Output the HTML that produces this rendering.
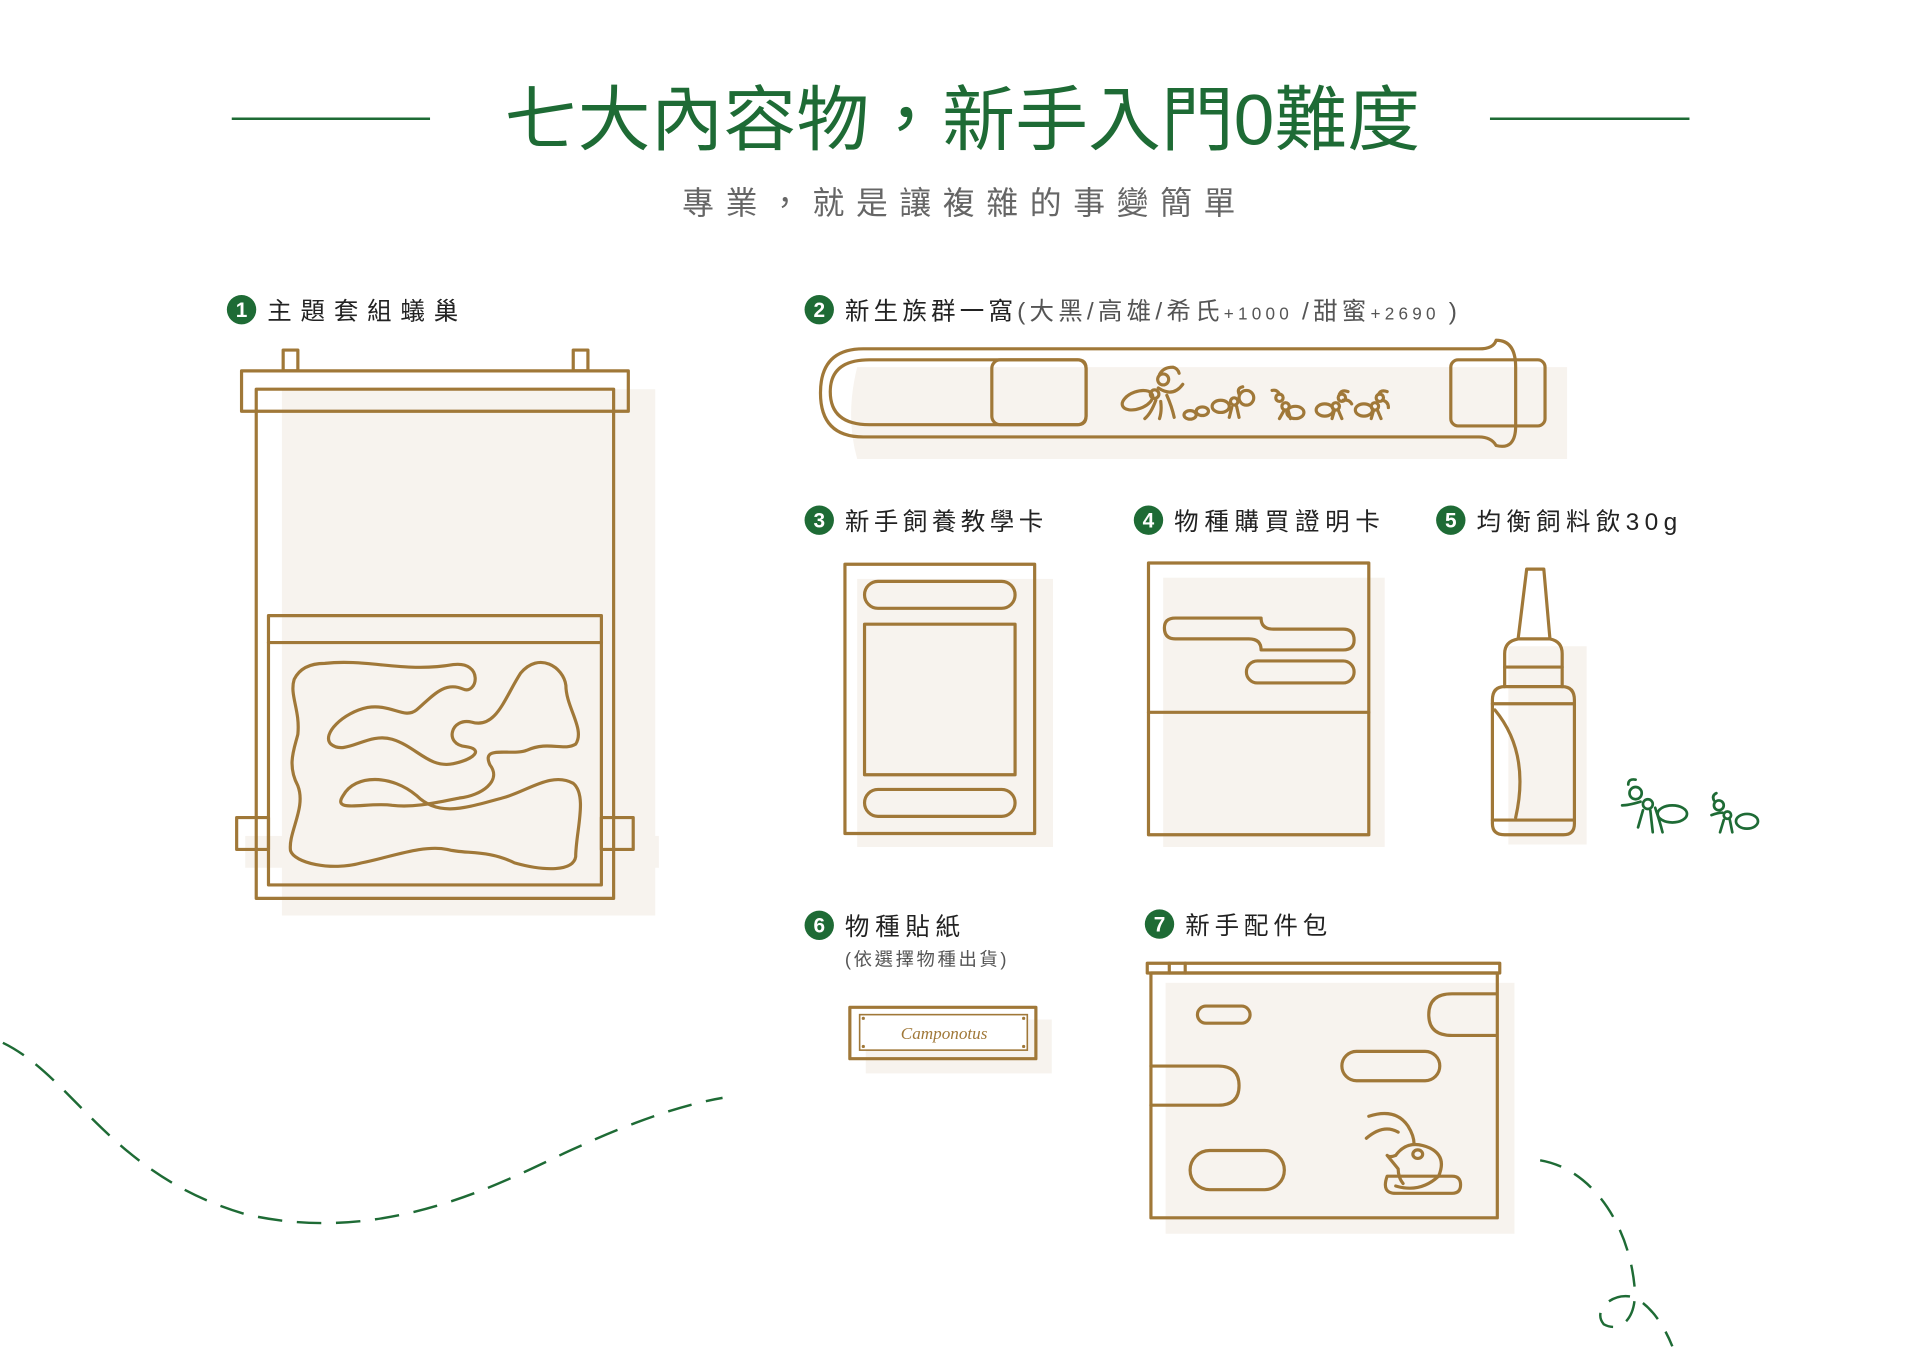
<!DOCTYPE html>
<html><head><meta charset="utf-8"><style>
html,body{margin:0;padding:0;background:#fff;}
svg{display:block;}
text{font-family:"Liberation Sans","Noto Sans CJK TC",sans-serif;}
</style></head><body>
<svg width="1920" height="1350" viewBox="0 0 1568 1103" xmlns="http://www.w3.org/2000/svg">
<defs><style>
.g{fill:none;stroke:#a07838;stroke-width:2.6;stroke-linejoin:round;stroke-linecap:round}
.f{fill:#f7f3ee}
.gr{fill:none;stroke:#1e6b35;stroke-width:2.2;stroke-linecap:round}
.lbl{font-size:20px;fill:#222;}
.num{fill:#1e6b35}
.nt{fill:#fff;font-size:17px;font-weight:bold;text-anchor:middle}
</style></defs>
<rect width="1568" height="1103" fill="#fff"/>
<!-- title -->
<line x1="189" y1="97" x2="351" y2="97" stroke="#1e6b35" stroke-width="2"/>
<line x1="1217" y1="97" x2="1380" y2="97" stroke="#1e6b35" stroke-width="2"/>
<text x="412" y="118" font-size="58" fill="#1e6b35" textLength="748" lengthAdjust="spacingAndGlyphs">七大內容物，新手入門0難度</text>
<text x="557" y="175" font-size="26" fill="#666" textLength="452" lengthAdjust="spacing">專業，就是讓複雜的事變簡單</text>

<!-- labels -->
<circle class="num" cx="197" cy="253" r="12"/><text class="nt" x="197" y="259">1</text>
<text class="lbl" x="218" y="261" textLength="156" lengthAdjust="spacing">主題套組蟻巢</text>
<circle class="num" cx="669" cy="253" r="12"/><text class="nt" x="669" y="259">2</text>
<text class="lbl" x="690" y="261" textLength="500" lengthAdjust="spacing">新生族群一窩<tspan fill="#555">(大黑/高雄/希氏</tspan><tspan fill="#555" font-size="14">+1000 </tspan><tspan fill="#555">/甜蜜</tspan><tspan fill="#555" font-size="14">+2690 </tspan><tspan fill="#555"> )</tspan></text>
<circle class="num" cx="669" cy="425" r="12"/><text class="nt" x="669" y="431">3</text>
<text class="lbl" x="690" y="433" textLength="162" lengthAdjust="spacing">新手飼養教學卡</text>
<circle class="num" cx="938" cy="425" r="12"/><text class="nt" x="938" y="431">4</text>
<text class="lbl" x="959" y="433" textLength="168" lengthAdjust="spacing">物種購買證明卡</text>
<circle class="num" cx="1185" cy="425" r="12"/><text class="nt" x="1185" y="431">5</text>
<text class="lbl" x="1206" y="433" textLength="164" lengthAdjust="spacing">均衡飼料飲30g</text>
<circle class="num" cx="669" cy="756" r="12"/><text class="nt" x="669" y="762">6</text>
<text class="lbl" x="690" y="764" textLength="94" lengthAdjust="spacing">物種貼紙</text>
<text x="690" y="789" font-size="15" fill="#555" textLength="132" lengthAdjust="spacing">(依選擇物種出貨)</text>
<circle class="num" cx="947" cy="755" r="12"/><text class="nt" x="947" y="761">7</text>
<text class="lbl" x="968" y="763" textLength="116" lengthAdjust="spacing">新手配件包</text>

<!-- 1 nest -->
<rect class="f" x="230" y="318" width="305" height="430"/>
<rect class="f" x="200" y="683" width="338" height="26"/>
<rect class="g" x="231" y="286" width="12" height="17"/>
<rect class="g" x="468" y="286" width="12" height="17"/>
<rect class="g" x="197" y="303" width="316" height="33" fill="#fff"/>
<rect class="g" x="209" y="318" width="292" height="416"/>
<rect class="g" x="193" y="668" width="26" height="26"/>
<rect class="g" x="491" y="668" width="26" height="26"/>
<rect class="g" x="219" y="503" width="272" height="220"/>
<line class="g" x1="219" y1="525" x2="491" y2="525"/>
<path class="g" d="M265 542 C300 538 330 550 370 543 C395 540 390 568 378 563 C362 556 352 570 340 580 C330 588 320 575 300 578 C280 582 262 600 270 608 C282 618 300 598 320 604 C340 610 350 628 370 624 C388 620 395 612 380 610 C362 608 368 586 385 590 C405 596 412 570 425 550 C440 532 460 545 462 560 C462 578 478 596 470 608 C460 614 448 605 430 613 C418 618 392 608 400 625 C410 638 393 650 375 652 C355 656 338 660 320 658 C300 655 270 665 280 650 C290 632 320 633 340 650 C358 668 380 660 410 652 C430 647 450 630 468 640 C480 650 470 680 470 700 C468 712 445 712 420 705 C398 694 380 698 365 694 C345 690 320 700 295 705 C270 712 240 705 237 695 C235 680 250 660 243 642 C234 625 240 612 243 600 C245 580 236 568 240 555 C245 545 255 542 265 542 Z"/>

<!-- 2 tube -->
<path class="f" d="M700 300 H1280 V375 H700 Q690 340 700 300 Z"/>
<path class="g" d="M705 285 H1208 Q1220 285 1222 278 Q1238 278 1238 300 V348 Q1238 368 1222 364 Q1218 357 1208 357 H705 Q670 357 670 321 Q670 285 705 285 Z"/>
<path class="g" d="M710 294 H880 Q887 294 887 301 V340 Q887 347 880 347 H710 Q678 347 678 320 Q678 294 710 294 Z"/>
<rect class="g" x="810" y="294" width="77" height="53" rx="7"/>
<rect class="g" x="1185" y="294" width="77" height="54" rx="6"/>
<g class="g" stroke-width="1.8">
<ellipse cx="929" cy="327" rx="13" ry="7" transform="rotate(-20 929 327)"/>
<circle cx="943" cy="322" r="3.5"/><circle cx="950" cy="310" r="4.5"/>
<path d="M946 317 Q958 325 966 314 M944 327 Q940 338 935 342 M948 328 Q949 336 947 342 M953 323 Q957 332 959 341 M947 306 Q950 300 958 300 Q962 301 963 305"/>
<ellipse cx="972" cy="339" rx="5" ry="3.5"/><ellipse cx="982" cy="336" rx="5" ry="3.5"/>
<ellipse cx="997" cy="332" rx="7" ry="5"/><circle cx="1008" cy="328" r="3"/><circle cx="1018" cy="325" r="6"/>
<path d="M1006 333 L1004 341 M1010 332 L1012 341 M1012 322 Q1010 317 1015 316"/>
<circle cx="1045" cy="325" r="3"/><circle cx="1050" cy="332" r="3"/><ellipse cx="1058" cy="337" rx="7" ry="5"/>
<path d="M1045 322 Q1043 318 1039 319 M1049 335 L1045 342 M1052 335 L1054 342"/>
<ellipse cx="1082" cy="335" rx="7" ry="5"/><circle cx="1091" cy="332" r="3"/><circle cx="1096" cy="325" r="3"/>
<path d="M1094 322 Q1096 318 1101 320 M1090 335 L1088 342 M1093 335 L1096 342 M1097 327 Q1102 326 1104 330"/>
<ellipse cx="1114" cy="335" rx="7" ry="5"/><circle cx="1123" cy="332" r="3"/><circle cx="1127" cy="325" r="3"/>
<path d="M1126 322 Q1128 318 1133 320 M1122 335 L1120 342 M1125 335 L1128 342 M1129 327 Q1134 328 1134 333"/>
</g>

<!-- 3 card -->
<rect class="f" x="700" y="473" width="160" height="219"/>
<rect class="g" x="690" y="461" width="155" height="220"/>
<rect class="g" x="706" y="475" width="123" height="22" rx="11"/>
<rect class="g" x="706" y="510" width="123" height="123"/>
<rect class="g" x="706" y="645" width="123" height="22" rx="11"/>

<!-- 4 card -->
<rect class="f" x="950" y="472" width="181" height="220"/>
<rect class="g" x="938" y="460" width="180" height="222"/>
<line class="g" x1="938" y1="582" x2="1118" y2="582"/>
<path class="g" d="M960 505 H1030 Q1030 514 1040 514 H1097 Q1106 514 1106 523 Q1106 531 1097 531 H1030 Q1030 522 1020 522 H960 Q951 522 951 513 Q951 505 960 505 Z"/>
<rect class="g" x="1018" y="540" width="88" height="18" rx="9"/>

<!-- 5 bottle -->
<path class="f" d="M1232 528 H1296 V690 H1232 Z"/>
<path class="g" d="M1247 465 H1261 L1266 522 Q1276 524 1276 534 V561 Q1286 561 1286 572 V673 Q1286 682 1277 682 H1229 Q1219 682 1219 673 V572 Q1219 561 1229 561 V534 Q1229 524 1240 522 Z"/>
<path class="g" d="M1240 522 H1266 M1229 545 H1276 M1229 561 H1276 M1219 575 H1286 M1219 670 H1286"/>
<path class="g" d="M1221 580 Q1250 615 1238 668"/>
<g class="gr" stroke-width="1.8">
<circle cx="1336" cy="648" r="5"/><circle cx="1346" cy="657" r="4"/><ellipse cx="1366" cy="665" rx="12" ry="7"/>
<path d="M1330 641 Q1330 636 1336 637 M1342 662 L1338 676 M1348 662 L1350 680 M1352 660 Q1356 672 1358 680 M1325 658 Q1330 658 1340 655"/>
<circle cx="1404" cy="658" r="4"/><circle cx="1411" cy="666" r="3"/><ellipse cx="1427" cy="671" rx="9" ry="6"/>
<path d="M1400 654 Q1398 650 1402 648 M1408 670 L1405 680 M1413 670 L1415 680 M1398 666 Q1403 664 1407 664"/>
</g>

<!-- 6 sticker -->
<rect class="f" x="707" y="833" width="152" height="44"/>
<rect class="g" x="694" y="823" width="152" height="42"/>
<rect x="702" y="829" width="137" height="29" fill="#fff" stroke="#a07838" stroke-width="1.3"/>
<circle cx="705" cy="832" r="1.3" fill="#a07838"/><circle cx="836" cy="832" r="1.3" fill="#a07838"/>
<circle cx="705" cy="855" r="1.3" fill="#a07838"/><circle cx="836" cy="855" r="1.3" fill="#a07838"/>
<text x="771" y="849" font-size="14" fill="#a07838" font-style="italic" text-anchor="middle" style="font-family:'Liberation Serif',serif">Camponotus</text>

<!-- 7 box -->
<rect class="f" x="952" y="803" width="285" height="205"/>
<rect class="g" x="940" y="795" width="283" height="200"/>
<rect class="g" x="937" y="787" width="288" height="8" fill="#fff"/>
<line class="g" x1="955" y1="787" x2="955" y2="795"/><line class="g" x1="968" y1="787" x2="968" y2="795"/>
<rect class="g" x="978" y="822" width="43" height="14" rx="7"/>
<path class="g" d="M1222 812 H1186 Q1167 812 1167 829 Q1167 846 1186 846 H1222"/>
<rect class="g" x="1096" y="859" width="80" height="24" rx="12"/>
<path class="g" d="M940 871 H995 Q1012 871 1012 887 Q1012 903 995 903 H940"/>
<rect class="g" x="972" y="940" width="77" height="32" rx="16"/>
<path class="g" d="M1133 961 Q1128 975 1140 975 H1186 Q1193 975 1193 968 Q1193 961 1186 961 Z" fill="#fff"/>
<path class="g" d="M1140 969 Q1160 975 1175 961 Q1182 945 1168 938 Q1150 930 1140 944 Q1135 946 1133 944 L1142 955 Q1142 962 1146 967" fill="#f7f3ee"/>
<ellipse class="g" cx="1158" cy="943" rx="4" ry="3.5"/>
<path class="g" d="M1118 912 Q1140 905 1150 920 Q1155 928 1155 935 M1116 930 Q1130 918 1142 925"/>

<!-- dashed curves -->
<path d="M2 852 C60 880 90 960 200 992 C320 1020 420 960 470 938 C520 915 560 902 590 897" fill="none" stroke="#1e6b35" stroke-width="2" stroke-dasharray="20 12"/>
<path d="M1258 948 C1300 955 1330 1000 1335 1050 C1338 1075 1325 1090 1310 1082 C1300 1070 1318 1055 1335 1060 C1350 1068 1360 1085 1366 1100" fill="none" stroke="#1e6b35" stroke-width="2" stroke-dasharray="18 12"/>
</svg>
</body></html>
